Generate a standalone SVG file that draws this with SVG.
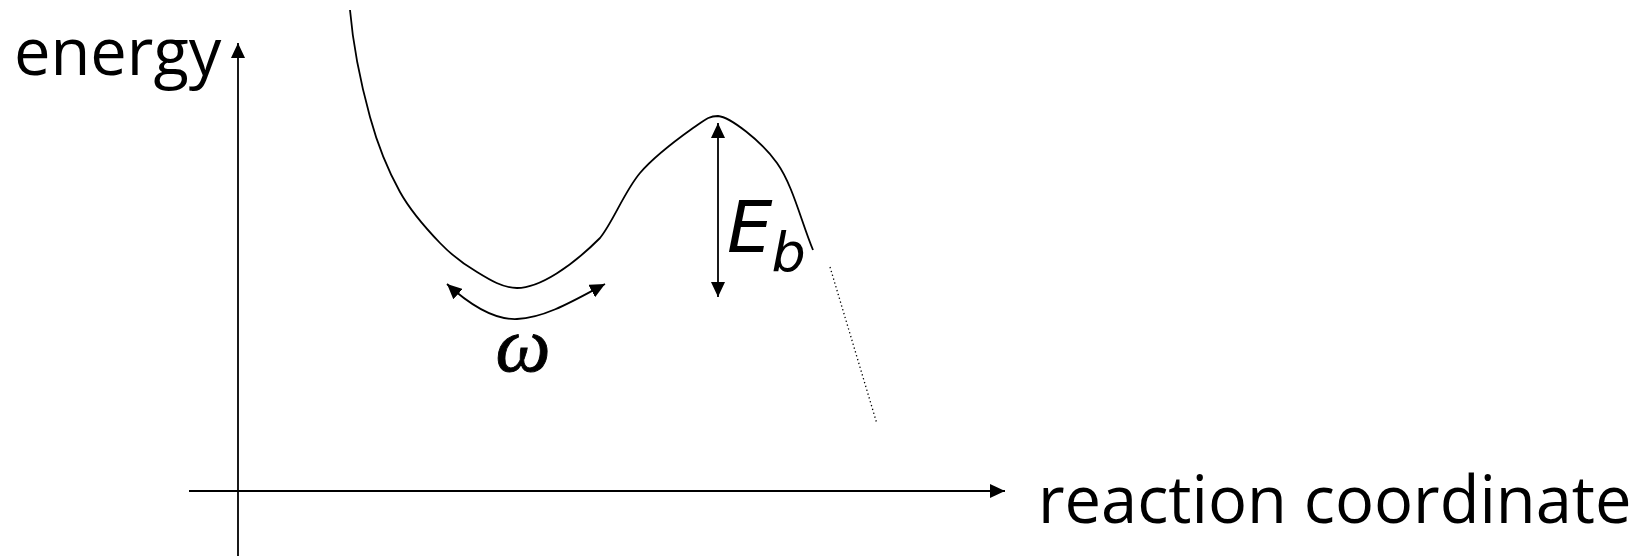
<svg xmlns="http://www.w3.org/2000/svg" width="1652" height="556" viewBox="0 0 1652 556">
  <style>
    .ln { fill: none; stroke: #000; stroke-width: 1.8; }
    .lbl { font-family: "Open Sans", "DejaVu Sans", sans-serif; font-size: 65px; fill: #000; }
    .it { font-family: "DejaVu Sans", "Open Sans", sans-serif; font-style: oblique; fill: #000; }
    .gr { font-family: "Liberation Serif", "DejaVu Serif", serif; font-style: italic; fill: #000; stroke: #000; stroke-width: 0.9; }
  </style>
  <defs>
    <marker id="ah" viewBox="0 0 15 14" refX="15" refY="7" markerWidth="15" markerHeight="14" markerUnits="userSpaceOnUse" orient="auto-start-reverse">
      <path d="M0,0 L15,7 L0,14 z" fill="#000"/>
    </marker>
  </defs>
  <rect width="1652" height="556" fill="#fff"/>

  <g id="connectors">
    <line id="y-axis" class="ln" x1="238" y1="556" x2="238" y2="43" marker-end="url(#ah)"/>
    <line id="x-axis" class="ln" x1="189" y1="491" x2="1005" y2="491" marker-end="url(#ah)"/>
    <line id="eb-arrow" class="ln" x1="718" y1="123" x2="718" y2="297" marker-start="url(#ah)" marker-end="url(#ah)"/>
    <path id="omega-arrow" class="ln" d="M447,284 C470,305 495,320 517,319 C545,318 575,300 605,284" marker-start="url(#ah)" marker-end="url(#ah)"/>
  </g>

  <g id="energy-curve">
    <path class="ln" d="M350,10 C353,45 361.7,86.7 370,117 C378.3,147.3 388.3,171 400,192 C411.7,213 427.2,229.7 440,243 C452.8,256.3 464.2,264.5 477,272 C490,280 503,288 517,288 C540,288 572,266 600,238 C613,222 624.5,191.3 640,173 C655.5,154.7 680,137.3 693,128 C706,119 709,116 718,116 C730,117 761.2,140.8 777,163 C792.8,185.2 801,221 813,250"/>
    <line stroke="#000" stroke-width="1.3" stroke-dasharray="1.3 2.7" x1="830" y1="267" x2="877" y2="424"/>
  </g>

  <g id="label-energy">
    <text class="lbl" x="14" y="75">energy</text>
  </g>
  <g id="label-reaction-coordinate">
    <text class="lbl" x="1038" y="523">reaction coordinate</text>
  </g>
  <g id="label-eb">
    <text class="it" x="727" y="252" font-size="72">E<tspan font-size="54" y="271" dx="-1">b</tspan></text>
  </g>
  <g id="label-omega">
    <text class="gr" x="523" y="371" font-size="78" text-anchor="middle">ω</text>
  </g>
</svg>
